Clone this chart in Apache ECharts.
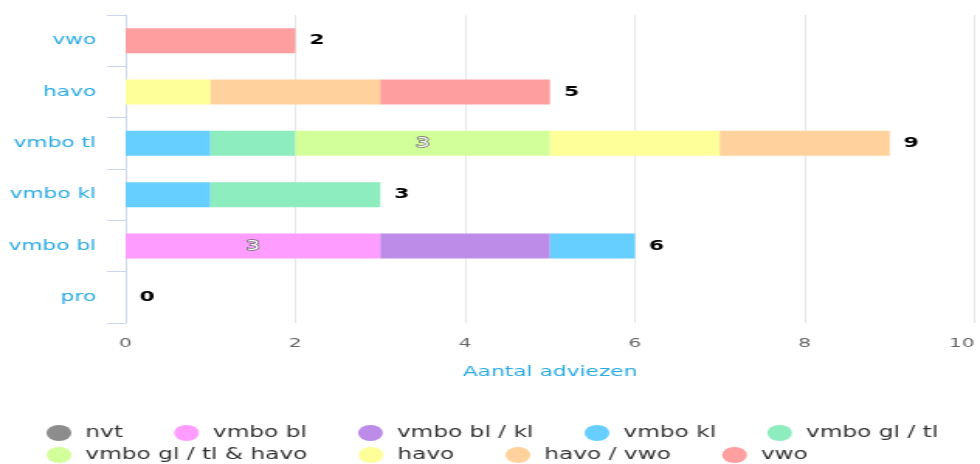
<!DOCTYPE html>
<html>
<head>
<meta charset="utf-8">
<script src="https://cdn.jsdelivr.net/npm/echarts@6/dist/echarts.min.js"></script>
<style>
html,body{margin:0;padding:0;background:#fff;overflow:hidden;width:980px;height:464px;}
#wrap{width:980px;height:464px;overflow:hidden;}
#chart{width:632px;height:464px;transform:scaleX(1.5506);transform-origin:0 0;}
</style>
</head>
<body>
<div id="wrap"><div id="chart"></div></div>
<script>
// categories (bottom to top)
const categories = ['pro', 'vmbo bl', 'vmbo kl', 'vmbo tl', 'havo', 'vwo'];
const seriesNames = ['nvt', 'vmbo bl', 'vmbo bl / kl', 'vmbo kl', 'vmbo gl / tl', 'vmbo gl / tl & havo', 'havo', 'havo / vwo', 'vwo'];
const nvt          = [0, 0, 0, 0, 0, 0];
const vmboBl       = [0, 3, 0, 0, 0, 0];
const vmboBlKl     = [0, 2, 0, 0, 0, 0];
const vmboKl       = [0, 1, 1, 1, 0, 0];
const vmboGlTl     = [0, 0, 2, 1, 0, 0];
const vmboGlTlHavo = [0, 0, 0, 3, 0, 0];
const havo         = [0, 0, 0, 2, 1, 0];
const havoVwo      = [0, 0, 0, 2, 2, 0];
const vwo          = [0, 0, 0, 0, 2, 2];
const xTicks = [0, 2, 4, 6, 8, 10];
const axisTitle = 'Aantal adviezen';

const values = [nvt, vmboBl, vmboBlKl, vmboKl, vmboGlTl, vmboGlTlHavo, havo, havoVwo, vwo];
const colors = ['#8c8c8c', '#ff9cff', '#bd8ce9', '#66cfff', '#8eedbe', '#d3ff9b', '#ffff99', '#ffd19c', '#ff9e9e'];
const totals = categories.map((c, i) => values.reduce((s, arr) => s + arr[i], 0));

const FONT = 'DejaVu Sans';
const series = seriesNames.map((name, k) => ({
  name: name,
  type: 'bar',
  stack: 'total',
  barWidth: 25,
  data: values[k],
  itemStyle: { color: colors[k] },
  label: {
    show: true,
    position: 'inside',
    fontFamily: FONT,
    fontSize: 14,
    color: '#ffffff',
    textBorderColor: '#666666',
    textBorderWidth: 1.5,
    formatter: p => (p.value >= 3 ? String(p.value) : '')
  },
  emphasis: { disabled: true }
}));
series.push({
  name: 'Totaal',
  type: 'bar',
  stack: 'total',
  barWidth: 25,
  data: categories.map(() => 0),
  itemStyle: { color: 'transparent' },
  label: {
    show: true,
    position: 'right',
    distance: 9,
    fontFamily: FONT,
    fontSize: 14,
    fontWeight: 600,
    color: '#000000',
    textBorderColor: '#ffffff',
    textBorderWidth: 2,
    formatter: p => String(totals[p.dataIndex])
  },
  emphasis: { disabled: true }
});

const legendBase = {
  orient: 'horizontal',
  left: 30,
  padding: 0,
  icon: 'circle',
  itemWidth: 16,
  itemHeight: 16,
  itemGap: 33,
  textStyle: { fontFamily: FONT, fontSize: 15, color: '#333333', padding: [0, 0, 0, 4] },
  selectedMode: false
};

const chart = echarts.init(document.getElementById('chart'), null, { renderer: 'canvas' });
chart.setOption({
  animation: false,
  color: colors,
  grid: { left: 81, right: 3.5, top: 15, bottom: 141, containLabel: false },
  legend: [
    Object.assign({}, legendBase, { top: 425, data: seriesNames.slice(0, 5) }),
    Object.assign({}, legendBase, { top: 447, data: seriesNames.slice(5) })
  ],
  xAxis: {
    type: 'value',
    min: xTicks[0],
    max: xTicks[xTicks.length - 1],
    interval: xTicks[1] - xTicks[0],
    name: axisTitle,
    nameLocation: 'middle',
    nameGap: 42,
    nameTextStyle: { fontFamily: FONT, fontSize: 14, color: '#29aae1' },
    axisLine: { show: false },
    axisTick: { show: false },
    axisLabel: { fontFamily: FONT, fontSize: 13, color: '#666666', margin: 14, alignMaxLabel: 'right' },
    splitLine: { show: true, lineStyle: { color: '#e6e6e6', width: 1 } }
  },
  yAxis: {
    type: 'category',
    data: categories,
    axisLine: { show: true, lineStyle: { color: '#ccd6eb', width: 1 } },
    axisTick: { show: true, length: 12, lineStyle: { color: '#ccd6eb' } },
    axisLabel: { fontFamily: FONT, fontSize: 14, color: '#29aae1', margin: 19 },
    splitLine: { show: false }
  },
  series: series
});
</script>
</body>
</html>
